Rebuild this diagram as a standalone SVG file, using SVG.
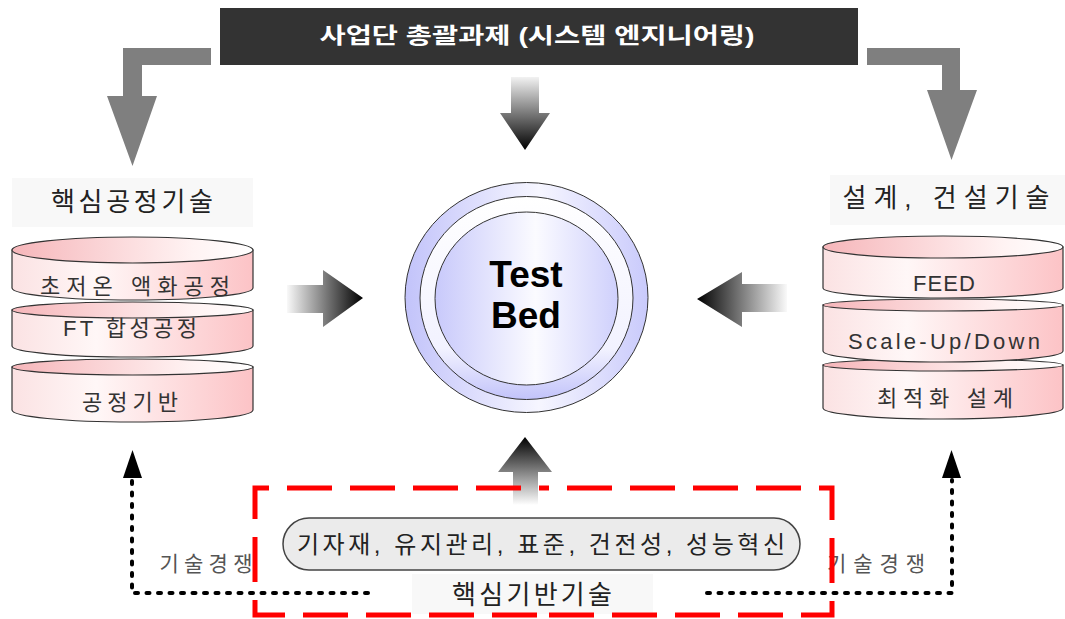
<svg xmlns="http://www.w3.org/2000/svg" width="1065" height="619" viewBox="0 0 1065 619">
<defs>
<style>
.k{font-family:"Liberation Sans","Noto Sans CJK KR",sans-serif;dominant-baseline:central;text-anchor:middle}
.st{fill:#333;font-size:22px}
.lab{fill:#222;font-size:26px}
.comp{fill:#555;font-size:21px}
.disk{stroke:#333;stroke-width:1.2}
.body{fill:url(#gBody)}
.top{fill:url(#gTop)}
.gray{fill:#7f7f7f}
.dot{fill:none;stroke:#000;stroke-width:4;stroke-linecap:round;stroke-dasharray:3 8.5}
.red{fill:none;stroke:#ff0000;stroke-width:5;stroke-dasharray:45 18;stroke-dashoffset:-6}
.ring{stroke:#333;stroke-width:1}
</style>
<linearGradient id="gBody" x1="0" y1="0" x2="1" y2="0">
<stop offset="0" stop-color="#fbe2e3"/><stop offset="0.35" stop-color="#fff7f7"/><stop offset="1" stop-color="#fcc3c6"/>
</linearGradient>
<linearGradient id="gTop" x1="0" y1="0" x2="1" y2="0">
<stop offset="0" stop-color="#f6b6ba"/><stop offset="0.75" stop-color="#fff3f3"/><stop offset="1" stop-color="#ffffff"/>
</linearGradient>
<linearGradient id="gOuter" x1="0" y1="0" x2="1" y2="0">
<stop offset="0" stop-color="#c2c3fa"/><stop offset="0.55" stop-color="#f6f6ff"/><stop offset="1" stop-color="#c9cafb"/>
</linearGradient>
<linearGradient id="gMid" x1="0" y1="0" x2="0" y2="1">
<stop offset="0" stop-color="#ffffff"/><stop offset="0.75" stop-color="#f2f2ff"/><stop offset="1" stop-color="#c2c3fa"/>
</linearGradient>
<linearGradient id="gInner" x1="0" y1="0" x2="1" y2="0">
<stop offset="0" stop-color="#c8c9fb"/><stop offset="0.55" stop-color="#fbfbff"/><stop offset="1" stop-color="#cfd0fc"/>
</linearGradient>
<linearGradient id="gDown" x1="0" y1="77" x2="0" y2="150" gradientUnits="userSpaceOnUse">
<stop offset="0" stop-color="#f2f2f2"/><stop offset="1" stop-color="#000"/>
</linearGradient>
<linearGradient id="gUp" x1="0" y1="505" x2="0" y2="437" gradientUnits="userSpaceOnUse">
<stop offset="0" stop-color="#ffffff"/><stop offset="1" stop-color="#000"/>
</linearGradient>
<linearGradient id="gRight" x1="285" y1="0" x2="363" y2="0" gradientUnits="userSpaceOnUse">
<stop offset="0" stop-color="#ffffff"/><stop offset="1" stop-color="#000"/>
</linearGradient>
<linearGradient id="gLeft" x1="789" y1="0" x2="697" y2="0" gradientUnits="userSpaceOnUse">
<stop offset="0" stop-color="#ffffff"/><stop offset="1" stop-color="#000"/>
</linearGradient>
</defs>
<rect width="1065" height="619" fill="#ffffff"/>

<g id="header">
<rect x="220" y="8" width="638" height="57" fill="#333333"/>
<text class="k" x="537" y="35" fill="#ffffff" font-size="22" font-weight="bold" textLength="435" lengthAdjust="spacingAndGlyphs">사업단 총괄과제 (시스템 엔지니어링)</text>
</g>

<g id="core-process">
<rect x="12" y="178" width="241" height="49" fill="#f8f8f8"/>
<text class="k lab" x="132" y="202" textLength="162">핵심공정기술</text>
<g class="disk">
<path class="body" d="M12,367 V410 A120.5,12 0 0 0 253,410 V367 Z"/>
<ellipse class="top" cx="132.5" cy="367" rx="120.5" ry="8"/>
<path class="body" d="M12,310 V346 A120.5,11 0 0 0 253,346 V310 Z"/>
<ellipse class="top" cx="132.5" cy="310" rx="120.5" ry="8"/>
<path class="body" d="M12,250 V288 A120.5,12 0 0 0 253,288 V250 Z"/>
<ellipse class="top" cx="132.5" cy="250" rx="120.5" ry="13"/>
</g>
<text class="k st" x="135" y="286" textLength="190">초저온 액화공정</text>
<text class="k st" x="130" y="328" textLength="134">FT 합성공정</text>
<text class="k st" x="130" y="402" textLength="96">공정기반</text>
</g>

<g id="design-construction">
<rect x="830" y="175" width="235" height="50" fill="#f8f8f8"/>
<text class="k lab" x="946" y="198" textLength="207">설계, 건설기술</text>
<g class="disk">
<path class="body" d="M823,365 V408 A120,11 0 0 0 1063,408 V365 Z"/>
<ellipse class="top" cx="943" cy="365" rx="120" ry="6"/>
<path class="body" d="M823,305 V351 A120,11 0 0 0 1063,351 V305 Z"/>
<ellipse class="top" cx="943" cy="305" rx="120" ry="6"/>
<path class="body" d="M823,247 V288 A120,10 0 0 0 1063,288 V247 Z"/>
<ellipse class="top" cx="943" cy="247" rx="120" ry="11"/>
</g>
<text class="k st" x="944" y="283" textLength="62">FEED</text>
<text class="k st" x="944" y="341" textLength="192">Scale-Up/Down</text>
<text class="k st" x="945" y="398" textLength="136">최적화 설계</text>
</g>

<g id="test-bed">
<ellipse class="ring" cx="526.5" cy="297.5" rx="121.5" ry="115" fill="url(#gOuter)"/>
<ellipse class="ring" cx="526.5" cy="298" rx="106.5" ry="101.5" fill="url(#gMid)"/>
<ellipse class="ring" cx="526.5" cy="298.5" rx="91.5" ry="86.5" fill="url(#gInner)"/>
<text x="526" y="287" font-family="'Liberation Sans',Arial,sans-serif" font-weight="bold" font-size="37" text-anchor="middle" fill="#000">Test</text>
<text x="526" y="328" font-family="'Liberation Sans',Arial,sans-serif" font-weight="bold" font-size="37" text-anchor="middle" fill="#000">Bed</text>
</g>

<g id="core-base">
<rect x="412" y="574" width="241" height="40" fill="#f8f8f8"/>
<rect x="283" y="518" width="517" height="52" rx="26" ry="26" fill="#ebebeb" stroke="#444" stroke-width="1.5"/>
<text class="k" x="541" y="544" fill="#222" font-size="24" textLength="488">기자재, 유지관리, 표준, 건전성, 성능혁신</text>
<text class="k lab" x="532" y="595" font-size="26" textLength="160">핵심기반기술</text>
</g>

<g id="competition-labels">
<text class="k comp" x="206" y="563" textLength="93">기술경쟁</text>
<text class="k comp" x="876" y="563" textLength="98">기술경쟁</text>
</g>

<g id="connectors">
<path class="gray" d="M211,48 H123 V96 H107 L132.5,166 L157,96 H142 V65 H211 Z"/>
<path class="gray" d="M867,48 H960 V90 H977 L951.5,160 L927,90 H942 V65 H867 Z"/>
<path fill="url(#gDown)" d="M511,77 H539 V113 H550 L525,150 L500,113 H511 Z"/>
<path fill="url(#gRight)" d="M287,285 H323 V270 L363,298 L323,327 V313 H287 Z"/>
<path fill="url(#gLeft)" d="M787,284 H742 V272 L697,299 L742,327 V312 H787 Z"/>
<path fill="url(#gUp)" d="M513,505 V472 H498 L525,437 L552,472 H538 V505 Z"/>
<path class="dot" d="M368,593 H132 V480"/>
<path d="M123,478 L132.5,450 L142,478 Z" fill="#000"/>
<path class="dot" d="M707,593 H952 V480"/>
<path d="M942,478 L951.5,450 L961,478 Z" fill="#000"/>
<path class="red" d="M543,615 H255 V488 H543"/>
<path class="red" d="M543,615 H832 V488 H543"/>
</g>
</svg>
